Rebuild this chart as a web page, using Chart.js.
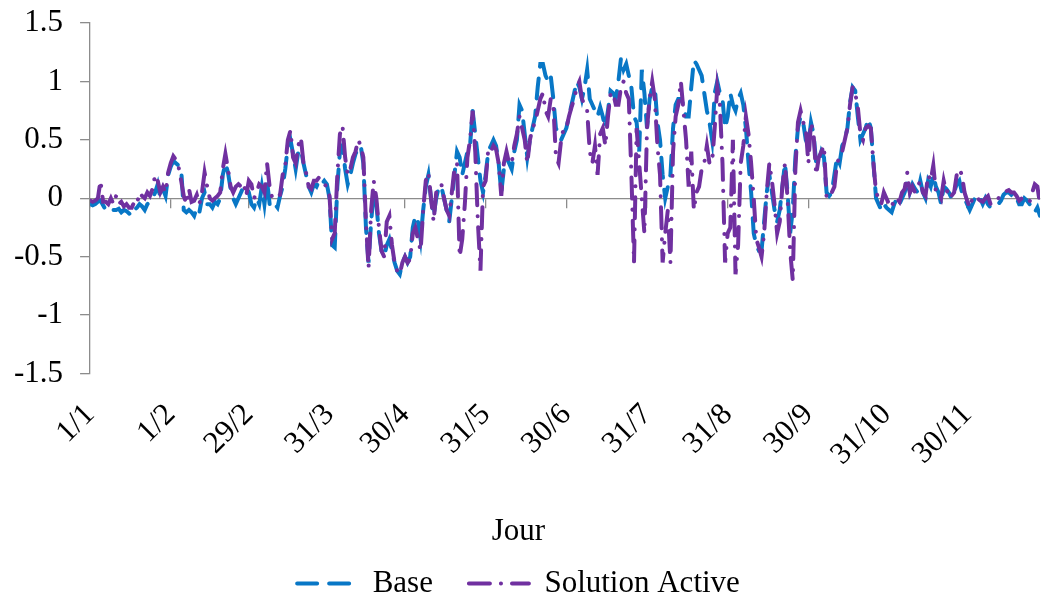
<!DOCTYPE html>
<html>
<head>
<meta charset="utf-8">
<script src="https://cdn.jsdelivr.net/npm/chart.js@4.4.1/dist/chart.umd.min.js"></script>
<style>
  html, body { margin: 0; padding: 0; background: #ffffff; }
  #wrap { width: 1043px; height: 599px; }
</style>
</head>
<body>
<div id="wrap"><canvas id="myChart" width="1043" height="599"></canvas></div>
<script>
// Daily values, day 0 = 1/1
var base = [
    -0.05, -0.06, -0.05, -0.03, -0.02, -0.06, -0.1, -0.09, -0.11, -0.1, -0.1, -0.09, -0.12, -0.1, -0.11,
    -0.13, -0.15, -0.1, -0.08, -0.05, -0.07, -0.1, -0.05, -0.03, 0.0, 0.05, 0.12, 0.0, 0.08, 0.02, 0.2, 0.27, 0.32, 0.3, 0.28, 0.25,
    -0.1, -0.12, -0.1, -0.12, -0.15, -0.08, -0.12, 0.0, 0.05, -0.05, -0.05, -0.08, -0.03, -0.05, 0.0, 0.2, 0.3, 0.22, 0.08, 0.0, -0.05, 0.0, 0.05, 0.1,
    0.1, 0.05, -0.05, -0.08, 0.0, -0.05, 0.1, -0.05, 0.15, -0.05, -0.08, -0.05, -0.08, 0.02, 0.1, 0.25, 0.45, 0.5, 0.38, 0.25, 0.4, 0.42, 0.3, 0.2, 0.1, 0.05, 0.12, 0.1, 0.15, 0.12, 0.15, 0.12, 0.0,
    -0.4, -0.42, 0.1, 0.4, 0.45, 0.25, 0.12, 0.2, 0.3, 0.38, 0.42, 0.45, 0.3, -0.25, -0.55, -0.2, 0.05, -0.05, -0.3, -0.45, -0.5, -0.4, -0.35, -0.45, -0.55, -0.62, -0.65, -0.55, -0.5,
    -0.55, -0.5, -0.25, -0.15, -0.2, -0.35, -0.1, 0.1, 0.2, 0.0, -0.15, 0.0, 0.1, 0.1, 0.0, -0.1, -0.2, 0.0, 0.2, 0.4, 0.35, 0.2, 0.3, 0.4, 0.45, 0.75, 0.55, 0.35, 0.15, 0.05,
    0.2, 0.4, 0.45, 0.5, 0.45, 0.3, 0.05, 0.25, 0.35, 0.3, 0.25, 0.4, 0.5, 0.8, 0.75, 0.55, 0.35, 0.5, 0.6, 0.7, 0.95, 1.15, 1.15, 1.05, 1.0, 1.05, 0.85, 0.6, 0.55, 0.5,
    0.55, 0.6, 0.7, 0.8, 0.9, 1.0, 0.95, 0.85, 0.95, 1.1, 0.85, 0.8, 0.75, 0.7, 0.78, 0.7, 0.6, 0.75, 0.92, 0.9, 0.85, 1.0, 1.2, 1.1, 1.15, 1.05, 0.95, 0.7, 0.65, 0.4, 1.1,
    0.9, 0.6, 0.85, 0.95, 0.95, 0.65, 0.5, 0.2, 0.0, 0.1, 0.2, 0.6, 0.8, 0.85, 0.85, 0.8, 0.7, 0.7, 0.95, 1.18, 1.15, 1.1, 1.05, 0.9, 0.75, 0.65, 0.5, 0.9, 1.0, 0.9, 0.85,
    0.6, 0.7, 0.9, 0.8, 0.75, 0.85, 0.9, 0.8, 0.6, 0.3, 0.05, -0.3, -0.4, -0.45, -0.45, -0.2, 0.05, 0.2, 0.05, -0.1, -0.2, -0.1, 0.1, 0.3, 0.05, -0.3, -0.1, 0.35, 0.6, 0.7,
    0.65, 0.5, 0.45, 0.65, 0.55, 0.3, 0.3, 0.4, 0.35, 0.05, 0.02, 0.05, 0.2, 0.35, 0.3, 0.45, 0.5, 0.6, 0.82, 0.95, 0.92, 0.7, 0.5, 0.55, 0.6, 0.68, 0.6, 0.3, 0.0, -0.05, -0.1,
    -0.05, -0.08, -0.1, -0.12, -0.05, 0.0, -0.05, 0.0, 0.05, 0.15, 0.05, 0.12, 0.08, 0.05, 0.15, 0.05, 0.0, 0.15, 0.1, 0.2, 0.1, 0.05, -0.05, 0.1, 0.08, 0.05, 0.0, 0.05, 0.12, 0.15, 0.05,
    0.0, -0.05, -0.1, -0.05, 0.0, -0.03, 0.0, -0.05, 0.0, -0.05, -0.08, -0.08, -0.07, -0.05, -0.02, 0.03, 0.05, 0.05, 0.03, 0.05, 0.0, -0.05, -0.05, 0.0, -0.02, -0.05, -0.1, -0.12, -0.08, -0.15
];

var solution = [
    -0.02, -0.03, -0.02, 0.0, 0.15, -0.03, -0.03, -0.05, 0.0, -0.05, 0.02, -0.05, -0.03, -0.07, -0.05,
    -0.08, -0.08, -0.03, -0.05, 0.05, 0.02, 0.0, 0.05, 0.02, 0.08, 0.2, 0.15, 0.05, 0.1, 0.05, 0.22, 0.3, 0.36, 0.33, 0.27, 0.15,
    0.02, -0.05, 0.08, -0.03, -0.02, 0.03, -0.05, 0.05, 0.22, 0.1, 0.0, -0.02, 0.0, 0.02, 0.05, 0.25, 0.38, 0.25, 0.1, 0.05, 0.1, 0.12, 0.1, 0.13,
    0.02, 0.15, 0.12, 0.0, 0.05, 0.12, 0.1, 0.05, 0.3, 0.1, 0.0, 0.0, 0.02, 0.03, 0.2, 0.28, 0.5, 0.58, 0.35, 0.3, 0.45, 0.52, 0.3, 0.22, 0.1, 0.08, 0.15, 0.15, 0.18, 0.15, 0.12, 0.1, 0.02,
    -0.35, -0.3, 0.2, 0.55, 0.62, 0.35, 0.2, 0.25, 0.35, 0.4, 0.5, 0.45, 0.35, -0.2, -0.6, -0.1, 0.15, 0.0, -0.25, -0.45, -0.5, -0.2, -0.15, -0.4, -0.55, -0.62, -0.65, -0.55, -0.5,
    -0.55, -0.52, -0.3, -0.25, -0.35, -0.45, -0.1, 0.15, 0.22, 0.0, -0.2, 0.05, 0.1, 0.12, 0.0, -0.1, -0.15, 0.05, 0.25, 0.3, -0.5, -0.35, -0.05, 0.35, 0.5, 0.75, 0.4, -0.2, -0.62, 0.1,
    0.15, 0.42, 0.4, 0.45, 0.42, 0.3, 0.02, 0.3, 0.4, 0.3, 0.3, 0.45, 0.55, 0.7, 0.6, 0.5, 0.3, 0.5, 0.6, 0.65, 0.75, 0.85, 0.9, 0.75, 0.7, 0.85, 0.8, 0.35, 0.3, 0.5,
    0.6, 0.6, 0.7, 0.78, 0.85, 0.95, 1.0, 0.85, 0.8, 0.75, 0.4, 0.3, 0.45, 0.2, 0.55, 0.6, 0.45, 0.7, 0.9, 0.9, 0.8, 0.8, 0.95, 1.0, 0.9, 0.85, 0.2, -0.55, 0.6, 0.3, 0.0,
    -0.3, 0.6, 0.85, 1.0, 0.85, 0.45, 0.2, -0.55, -0.3, -0.1, -0.55, 0.4, 0.7, 0.8, 1.0, 0.75, 0.5, 0.1, 0.4, -0.1, 0.05, 0.1, 0.25, 0.3, 0.45, 0.3, 0.3, 0.6, 0.95, 0.8, 0.3,
    -0.55, -0.3, -0.25, 0.5, -0.65, -0.4, 0.3, 0.45, 0.7, 0.55, 0.3, 0.0, -0.35, -0.42, -0.5, -0.3, 0.05, 0.3, 0.15, -0.05, -0.3, -0.2, 0.1, 0.3, 0.0, -0.45, -0.7, 0.25, 0.65, 0.75,
    0.65, 0.6, 0.3, 0.65, 0.55, 0.2, 0.35, 0.4, 0.45, 0.0, 0.02, 0.05, 0.1, 0.3, 0.35, 0.4, 0.5, 0.6, 0.8, 0.95, 0.9, 0.78, 0.55, 0.5, 0.6, 0.62, 0.6, 0.3, 0.05, 0.0, -0.05,
    0.05, 0.0, -0.05, -0.08, 0.0, 0.0, -0.03, 0.05, 0.08, 0.22, 0.05, 0.1, 0.05, 0.1, 0.15, 0.05, 0.02, 0.2, 0.15, 0.28, 0.05, 0.05, 0.0, 0.15, 0.05, 0.08, 0.02, 0.05, 0.2, 0.25, 0.2,
    0.05, -0.02, -0.08, 0.0, 0.02, 0.0, -0.02, -0.03, 0.0, 0.02, -0.05, -0.05, -0.03, 0.0, 0.02, 0.05, 0.06, 0.07, 0.05, 0.05, 0.02, -0.02, 0.0, 0.0, 0.0, -0.03, 0.05, 0.12, 0.1, -0.05
];

// Axis labels
var tickDays = [0, 31, 61, 92, 121, 152, 183, 214, 245, 276, 306, 337];
var tickLabels = ["1/1", "1/2", "29/2", "31/3", "30/4", "31/5", "30/6", "31/7", "31/8", "30/9", "31/10", "30/11"];
var yTicks = [-1.5, -1, -0.5, 0, 0.5, 1, 1.5];

var serif = "'Liberation Serif', 'Times New Roman', serif";
var axisGrey = "#8c8c8c";
var fontSize = 31;

var days = base.map(function (v, i) { return i; });

function setDayTicks(scale) {
    scale.ticks = tickDays.map(function (d) { return { value: d }; });
}

var data = {
    labels: days,
    datasets: [{
            label: "Base",
            data: base,
            borderColor: "#0877c6",
            borderWidth: 4,
            borderDash: [20, 12],
            borderCapStyle: "round",
            pointRadius: 0,
            tension: 0,
            order: 2
        }, {
            label: "Solution Active",
            data: solution,
            borderColor: "#7030a0",
            borderWidth: 4,
            borderDash: [21, 11, 0.1, 11],
            borderCapStyle: "round",
            pointRadius: 0,
            tension: 0,
            order: 1
        }
    ]
};

var chart = new Chart("myChart", {
    type: "line",
    data: data,
    options: {
        responsive: false,
        animation: false,
        layout: {
            padding: { left: -3, right: 3, top: 0, bottom: -10 }
        },
        plugins: {
            tooltip: { enabled: false },
            // axis name sits between the tick labels and the legend
            title: {
                display: true,
                position: "bottom",
                weight: 500,
                text: "Jour",
                color: "#000",
                font: { family: serif, size: fontSize, weight: "normal" },
                padding: { top: 25, bottom: -18 }
            },
            legend: {
                display: true,
                position: "bottom",
                labels: {
                    usePointStyle: true,
                    pointStyleWidth: 60,
                    padding: 36,
                    color: "#000",
                    font: { family: serif, size: fontSize },
                    generateLabels: function (c) {
                        return c.data.datasets.map(function (ds, i) {
                            return {
                                text: ds.label,
                                strokeStyle: ds.borderColor,
                                fillStyle: ds.borderColor,
                                lineWidth: 4,
                                lineDash: ds.borderDash,
                                lineCap: "round",
                                pointStyle: "line",
                                hidden: false,
                                datasetIndex: i,
                                fontColor: "#000"
                            };
                        });
                    }
                }
            }
        },
        scales: {
            x: {
                type: "linear",
                min: 0,
                max: 365,
                afterBuildTicks: setDayTicks,
                grid: { display: false },
                border: { display: false },
                ticks: {
                    autoSkip: false,
                    minRotation: 45,
                    maxRotation: 45,
                    padding: 15,
                    color: "#000",
                    font: { family: serif, size: fontSize },
                    callback: function (value) {
                        var k = tickDays.indexOf(value);
                        return k >= 0 ? tickLabels[k] : "";
                    }
                }
            },
            x2: {
                axis: "x",
                type: "linear",
                position: { y: 0 },
                min: 0,
                max: 365,
                afterBuildTicks: setDayTicks,
                grid: { drawOnChartArea: false, drawTicks: true, tickLength: 9, color: axisGrey, lineWidth: 1.3 },
                border: { display: true, color: axisGrey, width: 1.3 },
                ticks: { display: false }
            },
            y: {
                min: -1.5,
                max: 1.5,
                afterBuildTicks: function (scale) {
                    scale.ticks = yTicks.map(function (v) { return { value: v }; });
                },
                afterFit: function (scale) {
                    // keep the top of the plot close to the canvas edge
                    scale.paddingTop = 23;
                    scale.paddingBottom = 10;
                },
                grid: { drawOnChartArea: false, drawTicks: true, tickLength: 10, color: axisGrey, lineWidth: 1.3 },
                border: { display: true, color: axisGrey, width: 1.3 },
                ticks: {
                    padding: 17,
                    color: "#000",
                    font: { family: serif, size: fontSize },
                    callback: function (value) { return String(value); }
                }
            }
        }
    }
});
</script>
</body>
</html>
